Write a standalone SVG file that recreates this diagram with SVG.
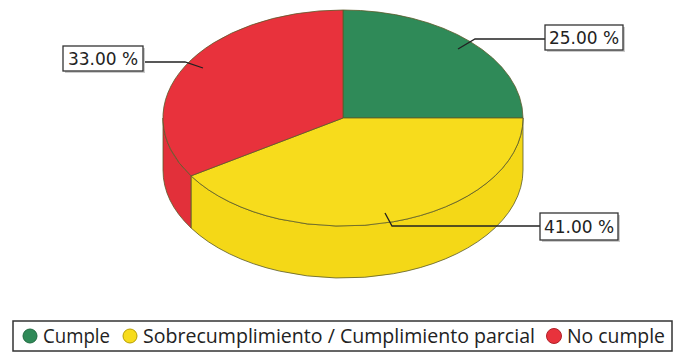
<svg xmlns="http://www.w3.org/2000/svg" width="675" height="354" viewBox="0 0 675 354">
<style>
.edge{stroke:#5a5a2a;stroke-width:0.8;stroke-linejoin:round}
.g{fill:#2f8a58}.y{fill:#f7dc1c}.r{fill:#e8323c}
.yw{fill:#f4d817}.rw{fill:#e2303a}
.lbl{fill:#fff;stroke:#333;stroke-width:1.3}
.shadow{fill:#ccc}
.lead{fill:none;stroke:#222;stroke-width:1.3}
.pct{font-family:"DejaVu Sans",sans-serif;font-size:17px;fill:#222}
.leg{font-family:"Open Sans",sans-serif;font-size:20px;fill:#222}
</style>
<rect width="675" height="354" fill="#fff"/>
<g id="pie">
<path class="yw edge" d="M523,118 A180,108 0 0,1 191,175.9 L191,227.9 A180,108 0 0,0 523,170 Z"/>
<path class="rw edge" d="M191,175.9 A180,108 0 0,1 163,118 L163,170 A180,108 0 0,0 191,227.9 Z"/>
<path id="slice-cumple" class="g edge" d="M343,118 L343,10 A180,108 0 0,1 523,118 Z"/>
<path id="slice-sobre" class="y edge" d="M343,118 L523,118 A180,108 0 0,1 191,175.9 Z"/>
<path id="slice-nocumple" class="r edge" d="M343,118 L191,175.9 A180,108 0 0,1 343,10 Z"/>
</g>
<g id="connectors">
<polyline class="lead" points="143,62 185,62 203,68"/>
<polyline class="lead" points="545,39 475,39 458,49"/>
<polyline class="lead" points="540,226 392,226 385,213"/>
</g>
<g id="label-33">
<rect class="shadow" x="65" y="48" width="80" height="25"/>
<rect class="lbl" x="63" y="46" width="80" height="25"/>
<text class="pct" x="103" y="65" text-anchor="middle">33.00 %</text>
</g>
<g id="label-25">
<rect class="shadow" x="547" y="27" width="78" height="25"/>
<rect class="lbl" x="545" y="25" width="78" height="25"/>
<text class="pct" x="584" y="44" text-anchor="middle">25.00 %</text>
</g>
<g id="label-41">
<rect class="shadow" x="542" y="215" width="78" height="27"/>
<rect class="lbl" x="540" y="213" width="78" height="27"/>
<text class="pct" x="579" y="233" text-anchor="middle">41.00 %</text>
</g>
<g id="legend">
<rect x="13" y="321" width="659" height="30" fill="#fff" stroke="#333" stroke-width="1.5"/>
<circle cx="30" cy="336" r="7" fill="#2f8a58" stroke="#1f6a40" stroke-width="1"/>
<text class="leg" x="43" y="343" textLength="67" lengthAdjust="spacingAndGlyphs">Cumple</text>
<circle cx="130" cy="336" r="7" fill="#f7dc1c" stroke="#b89f00" stroke-width="1"/>
<text class="leg" x="143" y="343" textLength="392" lengthAdjust="spacingAndGlyphs">Sobrecumplimiento / Cumplimiento parcial</text>
<circle cx="554" cy="336" r="7.5" fill="#e8323c" stroke="#b02028" stroke-width="1"/>
<text class="leg" x="567" y="343" textLength="98" lengthAdjust="spacingAndGlyphs">No cumple</text>
</g>
</svg>
